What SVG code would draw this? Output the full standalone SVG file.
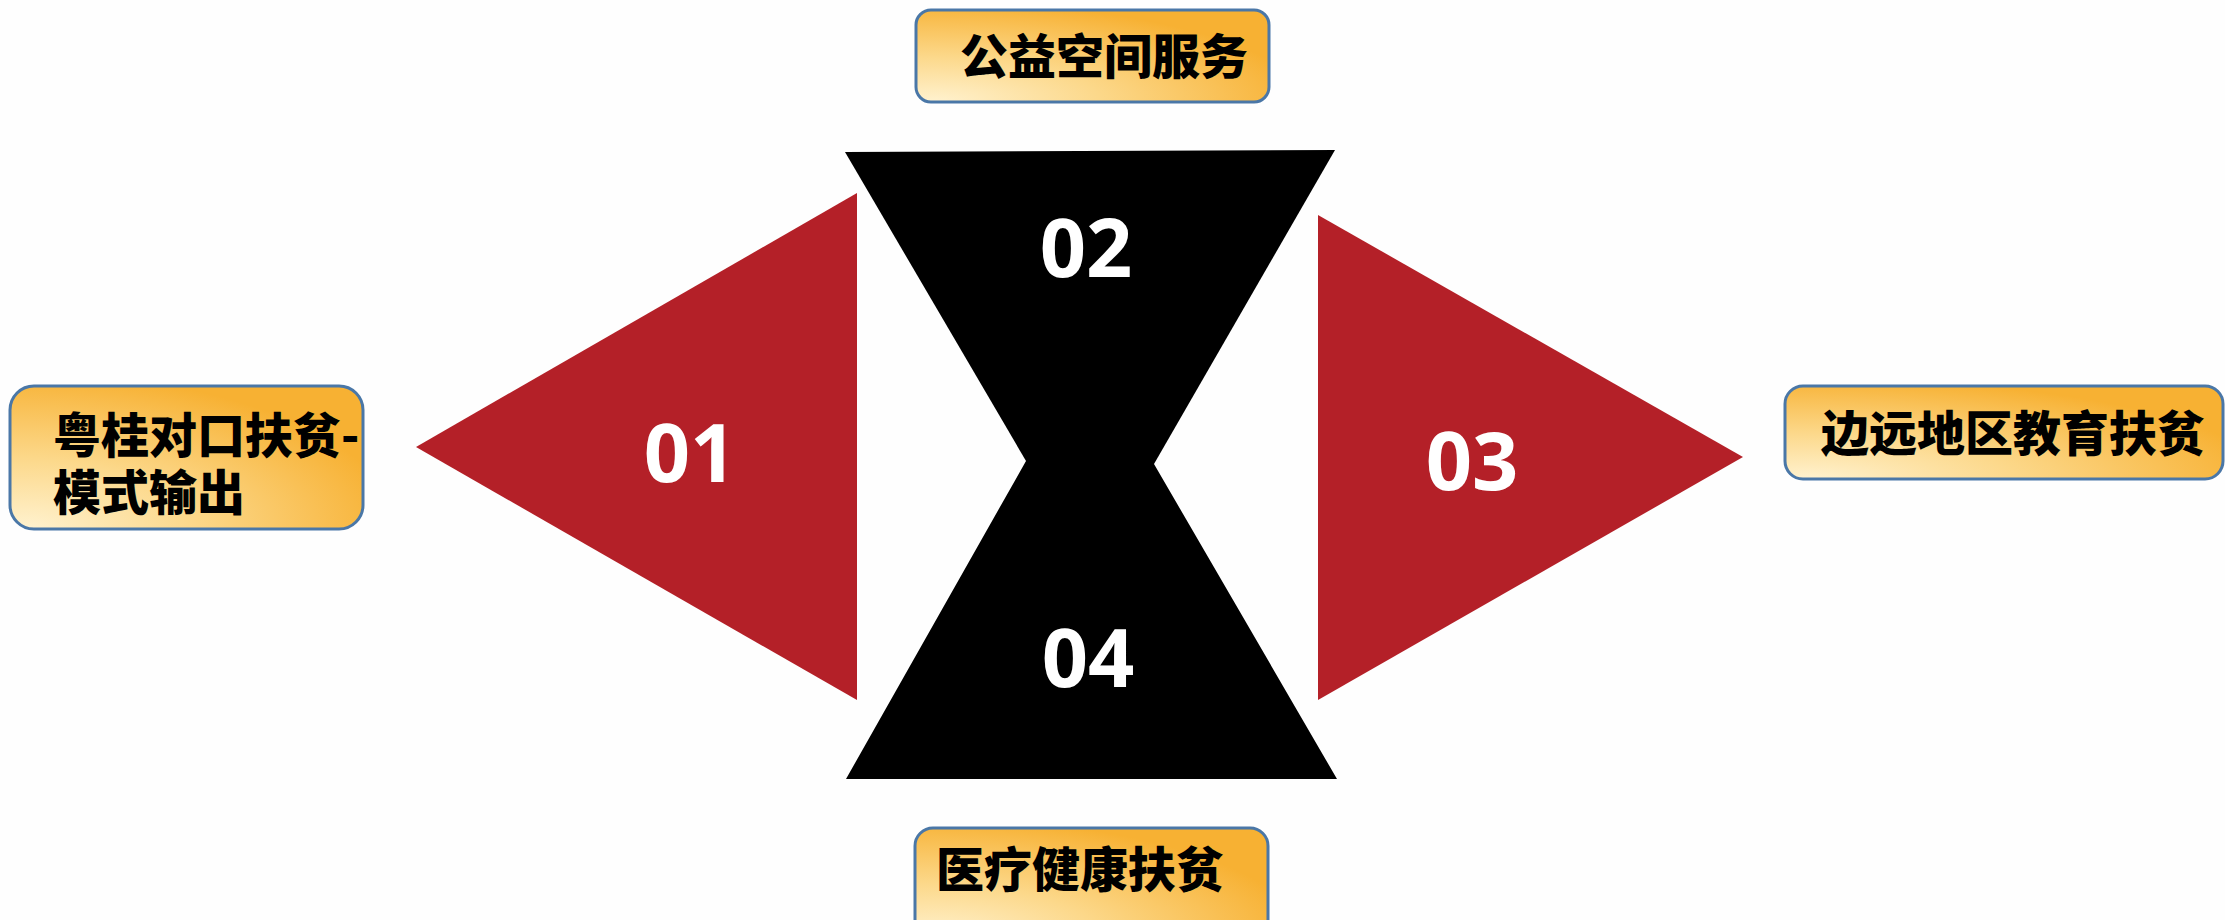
<svg xmlns="http://www.w3.org/2000/svg" width="2225" height="920" viewBox="0 0 2225 920">
<defs>
<radialGradient id="boxfill" cx="0" cy="1" r="1.1" fx="0.05" fy="1">
<stop offset="0" stop-color="#fff2cf"/>
<stop offset="0.45" stop-color="#fcd88a"/>
<stop offset="1" stop-color="#f7b133"/>
</radialGradient>
<style>
.box{fill:url(#boxfill);stroke:#4a77a7;stroke-width:3}
.lbl{font-family:"Noto Sans CJK SC","Liberation Sans",sans-serif;font-size:48px;font-weight:900;fill:#000}
.num{font-family:"Open Sans","Liberation Sans",sans-serif;font-size:81px;font-weight:700;fill:#fff;text-anchor:middle}
.red{fill:#b42028}
.blk{fill:#000}
</style>
</defs>
<rect width="2225" height="920" fill="#fefefe"/>
<g id="connectors"/>
<g id="shape-01">
<polygon class="red" points="416,447 857,193 857,700"/>
<text class="num" x="690" y="482">01</text>
</g>
<g id="shape-02">
<polygon class="blk" points="845,152 1335,150 1154,464 1026,461"/>
<text class="num" x="1086" y="277">02</text>
</g>
<g id="shape-04">
<polygon class="blk" points="1027,459 1153,459 1154,464 1337,779 846,779 1026,461"/>
<text class="num" x="1088" y="687">04</text>
</g>
<g id="shape-03">
<polygon class="red" points="1318,215 1743,457 1318,700"/>
<text class="num" x="1472" y="490">03</text>
</g>
<g id="label-top">
<rect class="box" x="916" y="10" width="353" height="92" rx="15"/>
<text class="lbl" x="960" y="74">公益空间服务</text>
</g>
<g id="label-left">
<rect class="box" x="10" y="386" width="353" height="143" rx="24"/>
<text class="lbl" x="53" y="453">粤桂对口扶贫-<tspan x="53" y="510">模式输出</tspan></text>
</g>
<g id="label-right">
<rect class="box" x="1785" y="386" width="438" height="93" rx="18"/>
<text class="lbl" x="1821" y="451">边远地区教育扶贫</text>
</g>
<g id="label-bottom">
<rect class="box" x="915" y="828" width="353" height="110" rx="18"/>
<text class="lbl" x="936" y="887">医疗健康扶贫</text>
</g>
</svg>
